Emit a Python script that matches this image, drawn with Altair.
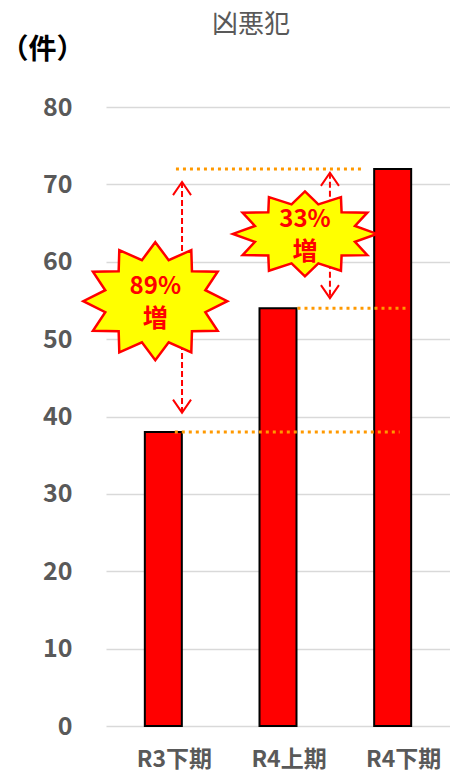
import math
import altair as alt
import pandas as pd

# ---- data ----
categories = ["R3下期", "R4上期", "R4下期"]
counts = [38, 54, 72]
y_ticks = [0, 10, 20, 30, 40, 50, 60, 70, 80]

# annotation data (x in band units 0..3, y in 件)
ref_levels = [72, 54, 38]
ref_start = [0.61, 1.67, 0.60]
ref_end = [2.24, 2.63, 2.56]

arrow_x = [0.663, 1.953]
arrow_top = [70.3, 71.5]
arrow_bottom = [40.5, 55.3]

burst_names = ["a", "b"]
burst_x = [0.43, 1.735]
burst_y = [54.9, 63.6]
burst_pct = ["89%", "33%"]
burst_word = ["増", "増"]

FONT = "Noto Sans CJK JP"
GRAY = "#595959"
RED = "#FF0000"
ORANGE = "#FF9900"


def star_path(n, ry, inner):
    pts = []
    for k in range(2 * n):
        a = -math.pi / 2 + k * math.pi / n
        r = 1.0 if k % 2 == 0 else inner
        pts.append(f"{r * math.cos(a):.3f},{r * math.sin(a) * ry:.3f}")
    return "M" + "L".join(pts) + "Z"


bars_df = pd.DataFrame({"cat": categories, "v": counts})
ref_df = pd.DataFrame({"u1": ref_start, "u2": ref_end, "v": ref_levels})
arrow_df = pd.DataFrame({"u": arrow_x, "v": arrow_top, "v2": arrow_bottom})
arrow_up_df = pd.DataFrame({"u": arrow_x, "v": arrow_top})
arrow_dn_df = pd.DataFrame({"u": arrow_x, "v": arrow_bottom})
burst_df = pd.DataFrame({"name": burst_names, "u": burst_x, "v": burst_y,
                         "pct": burst_pct, "word": burst_word})

xq_scale = alt.Scale(domain=[0, 3], nice=False, zero=False)
y_scale = alt.Scale(domain=[0, 80], nice=False)
xq = alt.X("u:Q", scale=xq_scale, axis=None)
yq = alt.Y("v:Q")

bars = alt.Chart(bars_df).mark_bar(
    color=RED, stroke="black", strokeWidth=2, size=37
).encode(
    x=alt.X("cat:N", sort=categories,
            scale=alt.Scale(paddingInner=0, paddingOuter=0),
            axis=alt.Axis(title=None, labelAngle=0, labelFontSize=23,
                          labelFontWeight="bold", labelColor=GRAY, labelFont=FONT,
                          labelPadding=22, labelOffset=11, ticks=False,
                          domain=False, grid=False)),
    y=alt.Y("v:Q", scale=y_scale,
            axis=alt.Axis(values=y_ticks, title="（件）", titleAngle=0,
                          titleX=-106, titleY=-57, titleAlign="left",
                          titleBaseline="middle", titleFontSize=28,
                          titleFontWeight="bold", titleColor="black", titleFont=FONT,
                          labelFontSize=25, labelFontWeight="bold", labelColor=GRAY,
                          labelFont=FONT, labelPadding=34, ticks=False, domain=False,
                          grid=True, gridColor="#D9D9D9", gridWidth=1.5)),
)

ref_lines = alt.Chart(ref_df).mark_rule(
    color=ORANGE, strokeWidth=3, strokeDash=[3, 4]
).encode(
    x=alt.X("u1:Q", scale=xq_scale, axis=None),
    x2="u2:Q",
    y=yq,
)

arrow_shafts = alt.Chart(arrow_df).mark_rule(
    color=RED, strokeWidth=2, strokeDash=[6, 3]
).encode(
    x=xq,
    y=yq,
    y2="v2:Q",
)

arrow_up = alt.Chart(arrow_up_df).mark_point(
    shape="M-1,1.45L0,0L1,1.45", size=324, filled=False, color=RED,
    strokeWidth=2, opacity=1
).encode(x=xq, y=yq)

arrow_dn = alt.Chart(arrow_dn_df).mark_point(
    shape="M-1,-1.45L0,0L1,-1.45", size=324, filled=False, color=RED,
    strokeWidth=2, opacity=1
).encode(x=xq, y=yq)

stars = alt.Chart(burst_df).mark_point(
    size=144 * 144, filled=True, fill="#FFFF00", stroke=RED, strokeWidth=2.5,
    opacity=1, fillOpacity=1
).encode(
    x=xq,
    y=yq,
    shape=alt.Shape("name:N", legend=None,
                    scale=alt.Scale(domain=burst_names,
                                    range=[star_path(12, 0.82, 0.72),
                                           star_path(12, 0.59, 0.72)])),
)

pct_text = alt.Chart(burst_df).mark_text(
    color=RED, fontSize=24, fontWeight="bold", font=FONT, dy=-14,
    baseline="middle", align="center"
).encode(x=xq, y=yq, text="pct:N")

word_text = alt.Chart(burst_df).mark_text(
    color=RED, fontSize=25, fontWeight="bold", font=FONT, dy=18,
    baseline="middle", align="center"
).encode(x=xq, y=yq, text="word:N")

chart = alt.layer(
    bars, ref_lines, arrow_shafts, arrow_up, arrow_dn, stars, pct_text, word_text
).resolve_scale(
    x="independent"
).properties(
    width=344,
    height=619,
    background="white",
    autosize=alt.AutoSizeParams(type="none"),
    padding={"left": 106, "top": 107, "right": 0, "bottom": 52},
    title=alt.TitleParams("凶悪犯", fontSize=26, color=GRAY, fontWeight="normal",
                          font=FONT, anchor="middle", frame="group", dx=-27,
                          offset=-2),
).configure_view(
    stroke="transparent", strokeWidth=0
).configure_axis(
    domain=False
)

chart.save("out.html", embed_options={"renderer": "svg", "actions": False})
